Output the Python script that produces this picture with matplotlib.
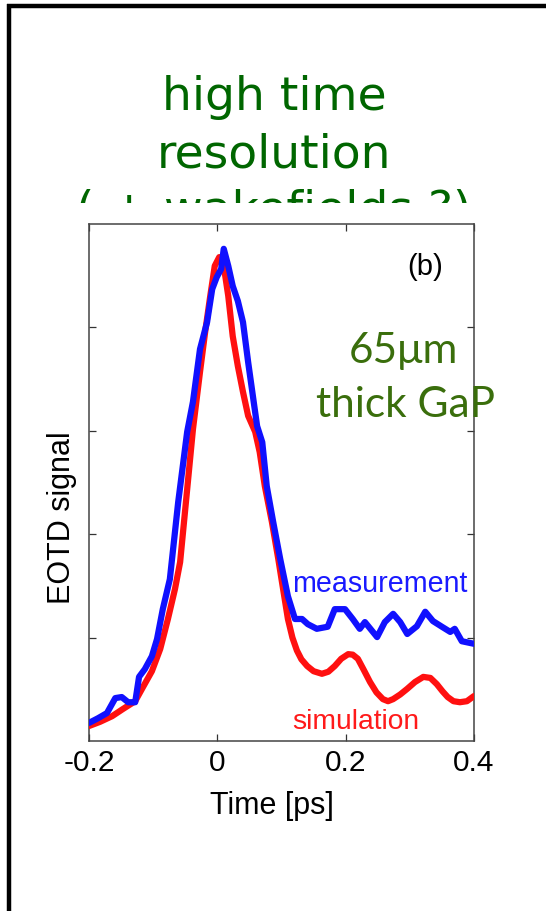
import matplotlib
matplotlib.use("Agg")
import matplotlib.pyplot as plt
from matplotlib.lines import Line2D
from matplotlib.patches import Rectangle

plt.rcParams['font.family'] = ['Liberation Sans', 'DejaVu Sans']
plt.rcParams['axes.unicode_minus'] = False

# Measured EOTD trace (time in ps, normalised signal)
t_meas = [-0.200, -0.186, -0.172, -0.159, -0.149, -0.139, -0.128, -0.122, -0.113, -0.102,
          -0.094, -0.085, -0.074, -0.061, -0.047, -0.038, -0.027, -0.016, -0.008, -0.001,
          0.006, 0.010, 0.017, 0.024, 0.032, 0.040, 0.048, 0.056, 0.062, 0.070,
          0.077, 0.087, 0.098, 0.110, 0.121, 0.132, 0.141, 0.155, 0.172, 0.183,
          0.199, 0.211, 0.222, 0.230, 0.249, 0.261, 0.274, 0.285, 0.296, 0.311,
          0.324, 0.336, 0.350, 0.363, 0.370, 0.381, 0.400]
v_meas = [0.035, 0.044, 0.054, 0.083, 0.085, 0.075, 0.075, 0.124, 0.139, 0.164,
          0.197, 0.255, 0.313, 0.462, 0.598, 0.656, 0.758, 0.810, 0.874, 0.897,
          0.913, 0.952, 0.919, 0.880, 0.851, 0.810, 0.733, 0.662, 0.609, 0.578,
          0.493, 0.424, 0.352, 0.280, 0.236, 0.236, 0.226, 0.217, 0.221, 0.255,
          0.255, 0.236, 0.217, 0.230, 0.201, 0.230, 0.246, 0.230, 0.207, 0.222,
          0.250, 0.232, 0.221, 0.211, 0.217, 0.193, 0.188]

# Simulated EOTD trace
t_sim = [-0.200, -0.183, -0.164, -0.147, -0.128, -0.116, -0.102, -0.089, -0.077, -0.066,
         -0.058, -0.047, -0.038, -0.027, -0.019, -0.011, -0.004, 0.003, 0.010, 0.017,
         0.024, 0.032, 0.040, 0.048, 0.059, 0.066, 0.074, 0.085, 0.095, 0.103,
         0.110, 0.117, 0.124, 0.131, 0.140, 0.150, 0.163, 0.173, 0.183, 0.193,
         0.204, 0.211, 0.219, 0.228, 0.238, 0.248, 0.258, 0.266, 0.274, 0.285,
         0.296, 0.308, 0.321, 0.332, 0.342, 0.351, 0.359, 0.368, 0.378, 0.389,
         0.400]
v_sim = [0.029, 0.037, 0.048, 0.062, 0.077, 0.104, 0.135, 0.178, 0.236, 0.294,
         0.346, 0.487, 0.603, 0.714, 0.791, 0.861, 0.919, 0.936, 0.919, 0.861,
         0.783, 0.725, 0.675, 0.629, 0.598, 0.559, 0.493, 0.424, 0.352, 0.290,
         0.236, 0.200, 0.175, 0.158, 0.145, 0.135, 0.130, 0.134, 0.145, 0.159,
         0.168, 0.167, 0.159, 0.138, 0.114, 0.094, 0.081, 0.077, 0.081, 0.090,
         0.101, 0.114, 0.124, 0.122, 0.110, 0.096, 0.085, 0.077, 0.075, 0.077,
         0.087]

x_ticks = [-0.2, 0, 0.2, 0.4]
x_tick_labels = ['-0.2', '0', '0.2', '0.4']
y_ticks = [0.2, 0.4, 0.6, 0.8]

title_lines = ['high time', 'resolution', '( + wakefields ?)']

W, H = 546, 912
fig = plt.figure(figsize=(W / 100, H / 100), dpi=100)


def fx(px):
    return px / W


def fy(py):
    return 1 - py / H


# slide frame
fig.add_artist(Line2D([fx(9.3), fx(9.3)], [fy(5), fy(H + 5)], color='black', lw=3.2,
                      solid_capstyle='butt', zorder=5))
fig.add_artist(Line2D([fx(7), fx(W + 5)], [fy(7), fy(7)], color='black', lw=3.2,
                      solid_capstyle='butt', zorder=5))

# headline
title_green = '#006600'
for line, base in zip(title_lines, [110, 167, 224]):
    fig.text(fx(274), fy(base), line, family='DejaVu Sans', fontsize=34,
             color=title_green, ha='center', va='baseline', zorder=1)

# white panel of the plot (covers the lower part of the headline)
fig.add_artist(Rectangle((fx(20), fy(H)), fx(W) - fx(20), fy(204) - fy(H),
                         facecolor='white', edgecolor='none', zorder=2))

ax = fig.add_axes([fx(89), fy(742), fx(474) - fx(89), fy(225) - fy(742)])
ax.set_zorder(3)

ax.plot(t_sim, v_sim, color='#ff1010', lw=4.5, solid_joinstyle='round',
        solid_capstyle='round', zorder=3)
ax.plot(t_meas, v_meas, color='#1010ff', lw=4.5, solid_joinstyle='round',
        solid_capstyle='round', zorder=4)

ax.set_xlim(-0.2, 0.4)
ax.set_ylim(0, 1)
ax.set_xticks(x_ticks)
ax.set_xticklabels(x_tick_labels)
ax.set_yticks(y_ticks)
ax.set_yticklabels([])
ax.tick_params(direction='in', length=5, width=0.9, color='#333333',
               top=True, right=True, labelsize=21.5, pad=5)
for s in ax.spines.values():
    s.set_color('#444444')
    s.set_linewidth(1.1)

ax.set_xlabel('Time [ps]', fontsize=22, va='center')
ax.xaxis.set_label_coords(0.475, -0.124)
ax.set_ylabel('EOTD signal', fontsize=22, va='center')
ax.yaxis.set_label_coords(-0.070, 0.433)

ax.text(0.873, 0.919, '(b)', transform=ax.transAxes, fontsize=21,
        ha='center', va='center')
ax.text(0.527, 0.290, 'measurement', transform=ax.transAxes, fontsize=20.6,
        color='#1a1aff', ha='left', va='baseline')
ax.text(0.527, 0.025, 'simulation', transform=ax.transAxes, fontsize=20.3,
        color='#ff1a1a', ha='left', va='baseline')

note_green = '#3a6e0c'
ax.text(0.818, 0.733, '65μm', transform=ax.transAxes, fontsize=30.5,
        family=['Lato', 'DejaVu Sans'], color=note_green, ha='center',
        va='baseline', clip_on=False)
ax.text(0.823, 0.629, 'thick GaP', transform=ax.transAxes, fontsize=30.5,
        family=['Lato', 'DejaVu Sans'], color=note_green, ha='center',
        va='baseline', clip_on=False)

fig.savefig('out.png', dpi=100)
